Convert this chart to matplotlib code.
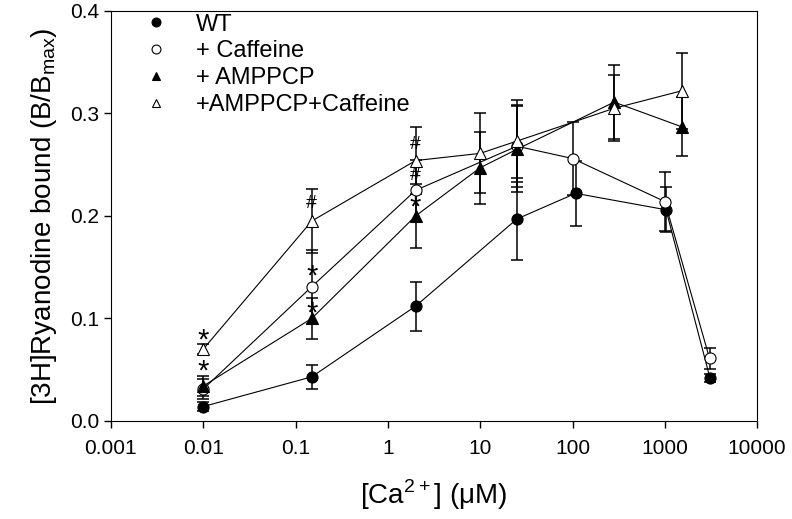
import numpy as np
import matplotlib
matplotlib.use("Agg")
import matplotlib.pyplot as plt

plt.rcParams['font.family'] = ['Liberation Sans', 'DejaVu Sans']
plt.rcParams['mathtext.fontset'] = 'custom'
plt.rcParams['mathtext.rm'] = 'Liberation Sans'

# data
x_wt = [0.01, 0.15, 2, 25, 108, 1030, 3080]
y_wt = [0.014, 0.043, 0.112, 0.197, 0.222, 0.206, 0.042]
e_wt = [0.004, 0.012, 0.024, 0.040, 0.032, 0.022, 0.004]

x_caf = [0.01, 0.15, 2, 25, 100, 1000, 3050]
y_caf = [0.031, 0.131, 0.225, 0.268, 0.256, 0.214, 0.061]
e_caf = [0.010, 0.036, 0.030, 0.040, 0.036, 0.029, 0.010]

x_amp = [0.01, 0.15, 2, 10, 25, 283, 1517]
y_amp = [0.034, 0.100, 0.200, 0.247, 0.265, 0.311, 0.287]
e_amp = [0.010, 0.020, 0.031, 0.035, 0.042, 0.036, 0.029]

x_ac = [0.01, 0.15, 2, 10, 25, 283, 1517]
y_ac = [0.070, 0.195, 0.254, 0.261, 0.273, 0.305, 0.322]
e_ac = [0.005, 0.031, 0.033, 0.039, 0.040, 0.032, 0.037]

# significance marks (x, y, symbol)
sig_x = [0.01, 0.01, 0.15, 0.15, 0.15, 2, 2, 2]
sig_y = [0.084, 0.054, 0.147, 0.111, 0.212, 0.270, 0.239, 0.214]
sig_s = ['*', '*', '*', '*', '#', '#', '#', '*']

fig = plt.figure(figsize=(7.92, 5.19), dpi=100)
ax = fig.add_axes([0.140, 0.189, 0.816, 0.790])

series = [
    (x_wt, y_wt, e_wt, 'o', 'black', 'WT'),
    (x_caf, y_caf, e_caf, 'o', 'white', '+ Caffeine'),
    (x_amp, y_amp, e_amp, '^', 'black', '+ AMPPCP'),
    (x_ac, y_ac, e_ac, '^', 'white', '+AMPPCP+Caffeine'),
]
for xs, ys, es, mk, fc, lab in series:
    ax.errorbar(xs, ys, yerr=es, fmt='-', color='black', lw=0.8,
                elinewidth=1.1, capsize=4.5, capthick=1.1, zorder=2)
    ax.plot(xs, ys, linestyle='none', marker=mk, markersize=8,
            markerfacecolor=fc, markeredgecolor='black', markeredgewidth=0.8,
            label=lab, zorder=3)

for sx, sy, s in zip(sig_x, sig_y, sig_s):
    if s == '*':
        ax.text(sx, sy - 0.006, s, ha='center', va='center', fontsize=21, zorder=4)
    else:
        ax.text(sx, sy, s, ha='center', va='center', fontsize=14, zorder=4)

ax.set_xscale('log')
ax.set_xlim(0.001, 10000)
ax.set_ylim(0, 0.4)
ax.set_xticks([0.001, 0.01, 0.1, 1, 10, 100, 1000, 10000])
ax.set_xticklabels(['0.001', '0.01', '0.1', '1', '10', '100', '1000', '10000'])
ax.xaxis.set_minor_locator(matplotlib.ticker.NullLocator())
ax.set_yticks([0.0, 0.1, 0.2, 0.3, 0.4])
ax.set_yticklabels(['0.0', '0.1', '0.2', '0.3', '0.4'])
ax.tick_params(labelsize=15, direction='out', length=5, width=1)
ax.tick_params(axis='x', pad=8)

ax.set_xlabel('[Ca$^{\\mathregular{2+}}$] (\u03bcM)', fontsize=20, labelpad=14)
ax.set_ylabel('[3H]Ryanodine bound (B/B$_{\\mathregular{max}}$)', fontsize=20, labelpad=8)

ax.legend(loc='upper left', bbox_to_anchor=(0.0, 1.045), frameon=False,
          fontsize=17, handletextpad=0.7, labelspacing=0.2, markerscale=0.8)

fig.savefig('out.png', dpi=100)
